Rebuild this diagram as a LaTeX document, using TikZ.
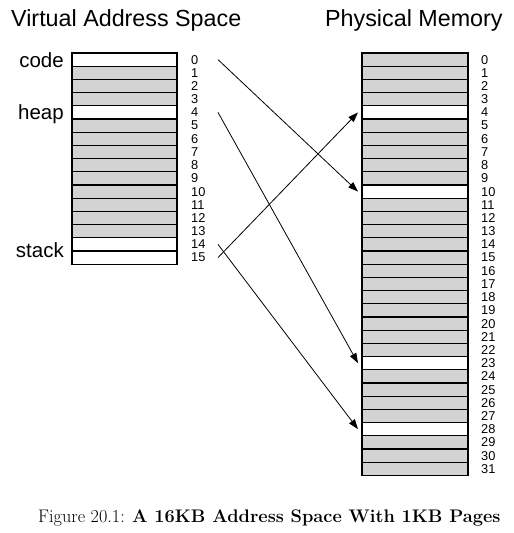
\documentclass[tikz,border=0pt]{standalone}
\usepackage{fontspec}
\setsansfont{Liberation Sans}
\usetikzlibrary{arrows.meta}
\definecolor{pagegray}{RGB}{211,211,211}
\begin{document}
\begin{tikzpicture}[x=1pt,y=1pt,
  page/.style={draw=black, line width=1.1pt, fill=pagegray, minimum width=105pt, minimum height=13.2pt, inner sep=0pt, outer sep=0pt},
  freepage/.style={page, fill=white},
  ppage/.style={page, minimum width=106pt},
  pfree/.style={ppage, fill=white},
  num/.style={font=\sffamily\fontsize{12.8}{12.8}\selectfont, anchor=west, inner sep=0pt},
  seglabel/.style={font=\sffamily\fontsize{20.5}{20.5}\selectfont, anchor=base east, inner sep=0pt},
  title/.style={font=\sffamily\fontsize{23.3}{23.3}\selectfont, anchor=base west, inner sep=0pt},
  maparrow/.style={line width=0.8pt, -{Triangle[length=10pt,width=7pt]}}
]
\useasboundingbox (0,0) rectangle (514,533);
\node[title] (tv) at (11,506) {Virtual Address Space};
\node[title] (tp) at (325,506) {Physical Memory};
% virtual pages
\foreach \i/\st in {0/freepage,1/page,2/page,3/page,4/freepage,5/page,6/page,7/page,8/page,9/page,10/page,11/page,12/page,13/page,14/freepage,15/freepage}{
  \node[\st] (v\i) at (124.5,{480-(\i+0.5)*13.2}) {};
  \node[num] (vn\i) at (191,{480-(\i+0.5)*13.2}) {\i};
}
% physical pages
\foreach \i/\st in {0/ppage,1/ppage,2/ppage,3/ppage,4/pfree,5/ppage,6/ppage,7/ppage,8/ppage,9/ppage,10/pfree,11/ppage,12/ppage,13/ppage,14/ppage,15/ppage,16/ppage,17/ppage,18/ppage,19/ppage,20/ppage,21/ppage,22/ppage,23/pfree,24/ppage,25/ppage,26/ppage,27/ppage,28/pfree,29/ppage,30/ppage,31/ppage}{
  \node[\st] (p\i) at (415,{480-(\i+0.5)*13.2}) {};
  \node[num] (pn\i) at (481,{480-(\i+0.5)*13.2}) {\i};
}
\node[seglabel] (lcode) at ([xshift=-8pt,yshift=-1pt]v0.south west) {code};
\node[seglabel] (lheap) at ([xshift=-8pt,yshift=-1pt]v4.south west) {heap};
\node[seglabel] (lstack) at ([xshift=-8pt,yshift=-7pt]v14.south west) {stack};
\draw[maparrow] ([xshift=41pt]v0.east) -- ([xshift=-4pt]p10.west);
\draw[maparrow] ([xshift=41pt]v4.east) -- ([xshift=-4pt]p23.west);
\draw[maparrow] ([xshift=41pt]v14.east) -- ([xshift=-4pt]p28.west);
\draw[maparrow] ([xshift=41pt]v15.east) -- ([xshift=-4pt]p4.west);
\node[anchor=base west, inner sep=0pt, font=\fontsize{18.2}{18.2}\selectfont] (cap) at (38,10.3) {Figure 20.1: \textbf{A 16KB Address Space With 1KB Pages}};
\end{tikzpicture}
\end{document}
